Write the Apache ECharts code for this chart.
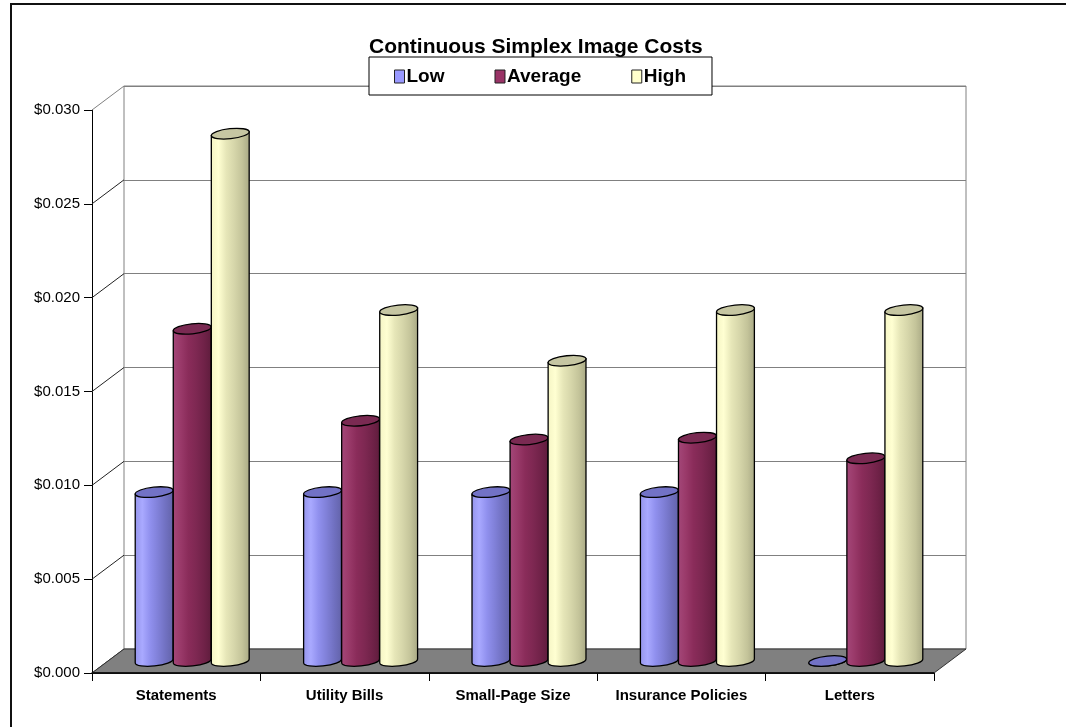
<!DOCTYPE html>
<html>
<head>
<meta charset="utf-8">
<title>Continuous Simplex Image Costs</title>
<script src="https://cdn.jsdelivr.net/npm/echarts@6/dist/echarts.min.js"></script>
<style>
  html, body { margin: 0; padding: 0; background: #fff; }
  #chart { width: 1066px; height: 727px; }
</style>
</head>
<body>
<div id="chart"></div>
<script>
// Cost per image, by document type
const categories = ['Statements', 'Utility Bills', 'Small-Page Size', 'Insurance Policies', 'Letters'];
const seriesNames = ['Low', 'Average', 'High'];
const lowCost = [0.0090, 0.0090, 0.0090, 0.0090, 0.0000];
const averageCost = [0.0177, 0.0128, 0.0118, 0.0119, 0.0108];
const highCost = [0.0281, 0.0187, 0.0160, 0.0187, 0.0187];
const yMin = 0, yMax = 0.030, yStep = 0.005;

// Oblique depth of the 3-D box (pixels) and cylinder sizing
const DEPTH_X = 32, DEPTH_Y = 24;
const CYL_RATIO = 0.226;   // cylinder width as a share of the category band
const CAP_RY = 5;          // half-height of the elliptical caps
const TILT = 6 * Math.PI / 180;

const FONT = "'Liberation Sans', Arial, sans-serif";

// Body gradient + cap colour for each series
const palettes = [
  { base: '#9999FF', cap: '#7272c6',
    stops: ['#9494ea', '#a9a9ff', '#9090ee', '#8080d8', '#7070c0', '#6262a8'] },
  { base: '#993366', cap: '#7a2a52',
    stops: ['#a4487a', '#9a3a6a', '#8a2c5a', '#7e2852', '#702248', '#5e1c3c'] },
  { base: '#FFFFCC', cap: '#c6c6a2',
    stops: ['#f4f4c4', '#ffffd2', '#e6e6b8', '#d6d6aa', '#c4c49a', '#a8a884'] }
];

function gradient(stops) {
  return new echarts.graphic.LinearGradient(0, 0, 1, 0,
    stops.map((c, i) => ({ offset: i / (stops.length - 1), color: c })));
}

function cylinderRenderer(idx) {
  const pal = palettes[idx];
  return function (params, api) {
    const cat = api.value(0), val = api.value(1);
    const base = api.coord([cat, 0]);
    const top = api.coord([cat, val]);
    const band = api.size([1, 0])[0];
    const w = band * CYL_RATIO;
    const rx = w / 2;
    const cx = base[0] + (idx - 1) * w + DEPTH_X / 2;
    const yb = base[1] - DEPTH_Y / 2;
    const yt = top[1] - DEPTH_Y / 2;
    const dx = rx * Math.cos(TILT), dy = rx * Math.sin(TILT);
    const rot = -TILT * 180 / Math.PI;
    const body = [
      'M', cx - dx, yt + dy,
      'L', cx - dx, yb + dy,
      'A', rx, CAP_RY, rot, 0, 0, cx + dx, yb - dy,
      'L', cx + dx, yt - dy, 'Z'
    ].join(' ');
    const cap = [
      'M', cx - dx, yt + dy,
      'A', rx, CAP_RY, rot, 0, 0, cx + dx, yt - dy,
      'A', rx, CAP_RY, rot, 0, 0, cx - dx, yt + dy, 'Z'
    ].join(' ');
    return {
      type: 'group',
      children: [
        { type: 'path', shape: { pathData: body },
          style: { fill: gradient(pal.stops), stroke: '#000', lineWidth: 1.3 } },
        { type: 'path', shape: { pathData: cap },
          style: { fill: pal.cap, stroke: '#000', lineWidth: 1.3 } }
      ]
    };
  };
}

// Floor and left-wall diagonals of the 3-D box, measured from the front grid
function frameRenderer(params, api) {
  const cs = params.coordSys;
  const x0 = cs.x, x1 = cs.x + cs.width, yb = cs.y + cs.height;
  const children = [];
  for (let v = yMin; v <= yMax + 1e-9; v += yStep) {
    const y = api.coord([0, v])[1];
    children.push({
      type: 'line',
      shape: { x1: x0, y1: y, x2: x0 + DEPTH_X, y2: y - DEPTH_Y },
      style: { stroke: v >= yMax - 1e-9 ? '#808080' : '#222', lineWidth: 1 }
    });
  }
  children.push({
    type: 'polygon',
    shape: { points: [[x0, yb], [x1, yb], [x1 + DEPTH_X, yb - DEPTH_Y], [x0 + DEPTH_X, yb - DEPTH_Y]] },
    style: { fill: '#808080', stroke: '#333', lineWidth: 1 }
  });
  children.push({
    type: 'line',
    shape: { x1: x0, y1: yb, x2: x1, y2: yb },
    style: { stroke: '#000', lineWidth: 1.5 }
  });
  return { type: 'group', children };
}

const chart = echarts.init(document.getElementById('chart'), null, { renderer: 'canvas' });

const valueSets = [lowCost, averageCost, highCost];

const option = {
  backgroundColor: '#fff',
  animation: false,
  title: {
    text: 'Continuous Simplex Image Costs',
    left: 369, top: 37, padding: 0,
    textStyle: { fontFamily: FONT, fontSize: 21, fontWeight: 'bold', color: '#000' }
  },
  legend: {
    data: seriesNames,
    left: 369, top: 57,
    padding: [10, 26, 9, 25],
    itemGap: 50, itemWidth: 10, itemHeight: 13,
    icon: 'rect',
    backgroundColor: '#fff', borderColor: '#000', borderWidth: 1,
    itemStyle: { borderColor: '#222', borderWidth: 1 },
    textStyle: { fontFamily: FONT, fontSize: 19, fontWeight: 'bold', color: '#000', padding: [0, 0, 0, -3] },
    selectedMode: false,
    z: 10
  },
  grid: [
    { left: 92, top: 110, width: 842, height: 563 },
    { left: 124, top: 86, width: 842, height: 563, show: true, borderColor: '#808080', borderWidth: 1 }
  ],
  xAxis: [
    {
      type: 'category', gridIndex: 0, data: categories,
      axisLine: { show: true, lineStyle: { color: '#000', width: 1.5 } },
      axisTick: { show: true, length: 8, lineStyle: { color: '#000' } },
      axisLabel: { interval: 0, fontFamily: FONT, fontSize: 15, fontWeight: 'bold', color: '#000', margin: 15 }
    },
    { type: 'category', gridIndex: 1, data: categories, show: false }
  ],
  yAxis: [
    {
      type: 'value', gridIndex: 0, min: yMin, max: yMax, interval: yStep,
      axisLine: { show: true, lineStyle: { color: '#000', width: 1 } },
      axisTick: { show: true, length: 8, lineStyle: { color: '#000' } },
      splitLine: { show: false },
      axisLabel: {
        fontFamily: FONT, fontSize: 15, color: '#000', margin: 12,
        formatter: v => '$' + v.toFixed(3)
      }
    },
    {
      type: 'value', gridIndex: 1, min: yMin, max: yMax, interval: yStep,
      axisLine: { show: false }, axisTick: { show: false }, axisLabel: { show: false },
      splitLine: { show: true, lineStyle: { color: '#808080', width: 1 } }
    }
  ],
  graphic: [
    { type: 'rect', shape: { x: 11, y: 4, width: 1200, height: 900 },
      style: { fill: null, stroke: '#111', lineWidth: 2 }, z: 100, silent: true }
  ],
  series: [
    {
      type: 'custom', name: 'frame', xAxisIndex: 0, yAxisIndex: 0,
      renderItem: frameRenderer, data: [[0, 0]], z: 1, silent: true
    }
  ].concat(seriesNames.map((name, i) => ({
    type: 'custom', name, xAxisIndex: 0, yAxisIndex: 0,
    itemStyle: { color: palettes[i].base },
    renderItem: cylinderRenderer(i),
    encode: { x: 0, y: 1 },
    data: valueSets[i].map((v, k) => [k, v]),
    z: 3
  })))
};

chart.setOption(option);
</script>
</body>
</html>
